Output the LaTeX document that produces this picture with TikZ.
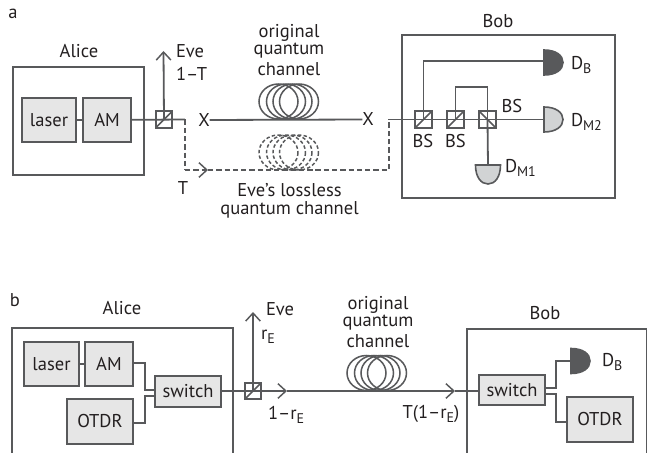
\documentclass[tikz,border=0pt]{standalone}
\usepackage{fontspec}
\setmainfont{PT Sans}
\usetikzlibrary{arrows.meta}
\definecolor{ln}{HTML}{58595B}
\definecolor{txt}{HTML}{231F20}
\definecolor{boxf}{HTML}{E6E6E6}
\definecolor{detf}{HTML}{D1D3D4}
\newcommand\lowsub[1]{\raisebox{-0.45ex}{\fontsize{10.5pt}{11pt}\selectfont #1}}
\tikzset{
  x=0.75pt,y=-0.75pt,
  every node/.style={text=txt,font=\fontsize{13.9pt}{15pt}\selectfont,inner sep=0pt,outer sep=0pt},
  wire/.style={draw=ln,line width=1.35pt},
  dashwire/.style={draw=ln,line width=1.15pt,dash pattern=on 4pt off 2.2pt},
  tipped/.style={-{Straight Barb[length=6pt,width=11pt,line width=1.1pt]}},
  frame/.style={draw=ln,line width=1.4pt},
  part/.style={draw=ln,line width=1.4pt,fill=boxf,rectangle},
  bsplit/.style={draw=ln,line width=1.3pt,rectangle,minimum width=12.3pt,minimum height=12.3pt},
  coil/.style={draw=ln,line width=1.15pt},
  dashcoil/.style={draw=ln,line width=1.1pt,dash pattern=on 2.6pt off 1.7pt},
  det/.style={draw=ln,line width=1.2pt},
}
\begin{document}
\begin{tikzpicture}
\useasboundingbox (0,0) rectangle (647,453);
% ---------- panel a
\node (la) at (13,14) {a};
\draw[frame] (13,67) rectangle (144,175);
\node (alicea) at (79,51) {Alice};
\draw[frame] (402,35) rectangle (615,198);
\node (boba) at (498,21) {Bob};
\node[part,minimum width=40.5pt,minimum height=33pt] (lasera) at (49,120) {laser};
\node[part,minimum width=36pt,minimum height=33pt] (ama) at (107,120) {AM};
\node[bsplit] (bs0) at (164,119.5) {};
\node (x1) at (204,120) {X};
\node (x2) at (368,119.5) {X};
\node[bsplit] (bs1) at (423.5,119.5) {};
\node[bsplit] (bs2) at (455.5,119.5) {};
\node[bsplit] (bs3) at (487.5,119.5) {};
\coordinate (j1) at (185,119.5);
\coordinate (j2) at (185,170);
\coordinate (j3) at (389,170);
\coordinate (j4) at (389,119.5);
\coordinate (evetip) at (163.5,51);
\coordinate (dasharrow) at (208,170);
\coordinate (dB) at (544,61);
\coordinate (dM2) at (544,119.5);
\coordinate (dM1) at (488,165);
\coordinate (up1) at (423.5,61);
\coordinate (up2) at (455.5,87);
\coordinate (up3) at (487.5,87);
\draw[wire] (lasera) -- (ama);
\draw[wire] (ama) -- (j1);
\draw[wire] (x1) -- (x2);
\draw[wire] (j4) -- (dM2);
\draw[wire,tipped] (bs0.center) -- (evetip);
\draw[dashwire] (j1) -- (j2);
\draw[dashwire,tipped] (j2) -- (dasharrow);
\draw[dashwire] (dasharrow) -- (j3) -- (j4);
\draw[wire] (bs1.center) -- (up1) -- (dB);
\draw[wire] (bs2.center) -- (up2) -- (up3) -- (bs3.center);
\draw[wire] (bs3.center) -- (dM1);
\foreach \b in {bs0,bs1,bs2}{\draw[draw=ln,line width=1.1pt] (\b.south west) -- (\b.north east);}
\draw[draw=ln,line width=1.1pt] (bs3.north west) -- (bs3.south east);
\draw[det,fill=ln,shift={(544,62.5)}] (0,-12.5) .. controls (12,-12.5) and (19,-7) .. (19,0) .. controls (19,7) and (12,12.5) .. (0,12.5) -- cycle;
\draw[det,fill=detf,shift={(544,119.5)}] (0,-12.5) .. controls (12,-12.5) and (19,-7) .. (19,0) .. controls (19,7) and (12,12.5) .. (0,12.5) -- cycle;
\draw[det,fill=detf,shift={(488,165)}] (-12.5,0) .. controls (-12.5,12) and (-7,19) .. (0,19) .. controls (7,19) and (12.5,12) .. (12.5,0) -- cycle;
\foreach \c in {278.5,286,292.5,299}{
  \draw[coil] (\c,101.5) ellipse [x radius=19.5,y radius=17.5];
  \draw[dashcoil] (\c,152.5) ellipse [x radius=19.5,y radius=17.5];
}
\node (oa1) at (289,32.5) {original};
\node (oa2) at (289,50.5) {quantum};
\node (oa3) at (289,69) {channel};
\node (ea1) at (289.5,190) {Eve’s lossless};
\node (ea2) at (289.5,210) {quantum channel};
\node[anchor=west] (evea) at (176,51) {Eve};
\node[anchor=west] (ta) at (176,74) {1–T};
\node (t2a) at (183,188) {T};
\node (bsl1) at (423,141) {BS};
\node (bsl2) at (455.5,141) {BS};
\node (bsl3) at (512,106.5) {BS};
\node[anchor=west] (ldb) at (571,65) {D\lowsub{B}};
\node[anchor=west] (ldm2) at (571,122) {D\lowsub{M2}};
\node[anchor=west] (ldm1) at (505,168) {D\lowsub{M1}};
% ---------- panel b
\node (lb) at (15,300) {b};
\draw[frame] (12,453) -- (12,328) -- (233,328) -- (233,453);
\node (aliceb) at (122,308) {Alice};
\draw[frame] (467,453) -- (467,329) -- (646.5,329) -- (646.5,453);
\node (bobb) at (545,313) {Bob};
\node[part,minimum width=41pt,minimum height=33pt] (laserb) at (51.5,364) {laser};
\node[part,minimum width=36pt,minimum height=33pt] (amb) at (109,364) {AM};
\node[part,minimum width=49.5pt,minimum height=33.5pt] (otdra) at (100,421.5) {OTDR};
\node[part,minimum width=49.5pt,minimum height=23pt] (swa) at (188,391.5) {switch};
\node[bsplit] (bsb) at (253,391) {};
\node[part,minimum width=49.5pt,minimum height=23pt] (swb) at (512,390) {switch};
\node[part,minimum width=49.5pt,minimum height=33.5pt] (otdrb) at (600,419.5) {OTDR};
\coordinate (ej) at (253,312);
\coordinate (a1) at (287,391);
\coordinate (a2) at (455,391);
\coordinate (m1) at (145,363);
\coordinate (m2) at (145,390);
\coordinate (m3) at (145,423);
\coordinate (m4) at (145,396);
\coordinate (n1) at (556,388);
\coordinate (n2) at (556,361);
\coordinate (n3) at (556,394);
\coordinate (n4) at (556,422);
\coordinate (dBb) at (571,361);
\draw[wire] (laserb) -- (amb);
\draw[wire] (amb.east |- m1) -- (m1) -- (m2) -- (swa.west |- m2);
\draw[wire] (otdra.east |- m3) -- (m3) -- (m4) -- (swa.west |- m4);
\draw[wire,tipped] (swa.east |- a1) -- (a1);
\draw[wire,tipped] (a1) -- (a2);
\draw[wire] (a2) -- (swb.west |- a2);
\draw[wire,tipped] (bsb.center) -- (ej);
\draw[draw=ln,line width=1.1pt] (bsb.south west) -- (bsb.north east);
\draw[wire] (swb.east |- n1) -- (n1) -- (n2) -- (dBb);
\draw[wire] (swb.east |- n3) -- (n3) -- (n4) -- (otdrb.west |- n4);
\draw[det,fill=ln,shift={(571,361)}] (0,-12.5) .. controls (12,-12.5) and (19,-7) .. (19,0) .. controls (19,7) and (12,12.5) .. (0,12.5) -- cycle;
\foreach \c in {366.5,374,380.5,387}{
  \draw[coil] (\c,373) ellipse [x radius=19.5,y radius=17.5];
}
\node (ob1) at (378,304.5) {original};
\node (ob2) at (378,322.5) {quantum};
\node (ob3) at (378,341) {channel};
\node[anchor=west] (eveb) at (266,309) {Eve};
\node[anchor=west] (reb) at (261,337) {r\lowsub{E}};
\node[anchor=west] (t1b) at (268,415) {1–r\lowsub{E}};
\node (t2b) at (431,414) {T(1–r\lowsub{E})};
\node[anchor=west] (ldbb) at (602,362) {D\lowsub{B}};
\end{tikzpicture}
\end{document}
